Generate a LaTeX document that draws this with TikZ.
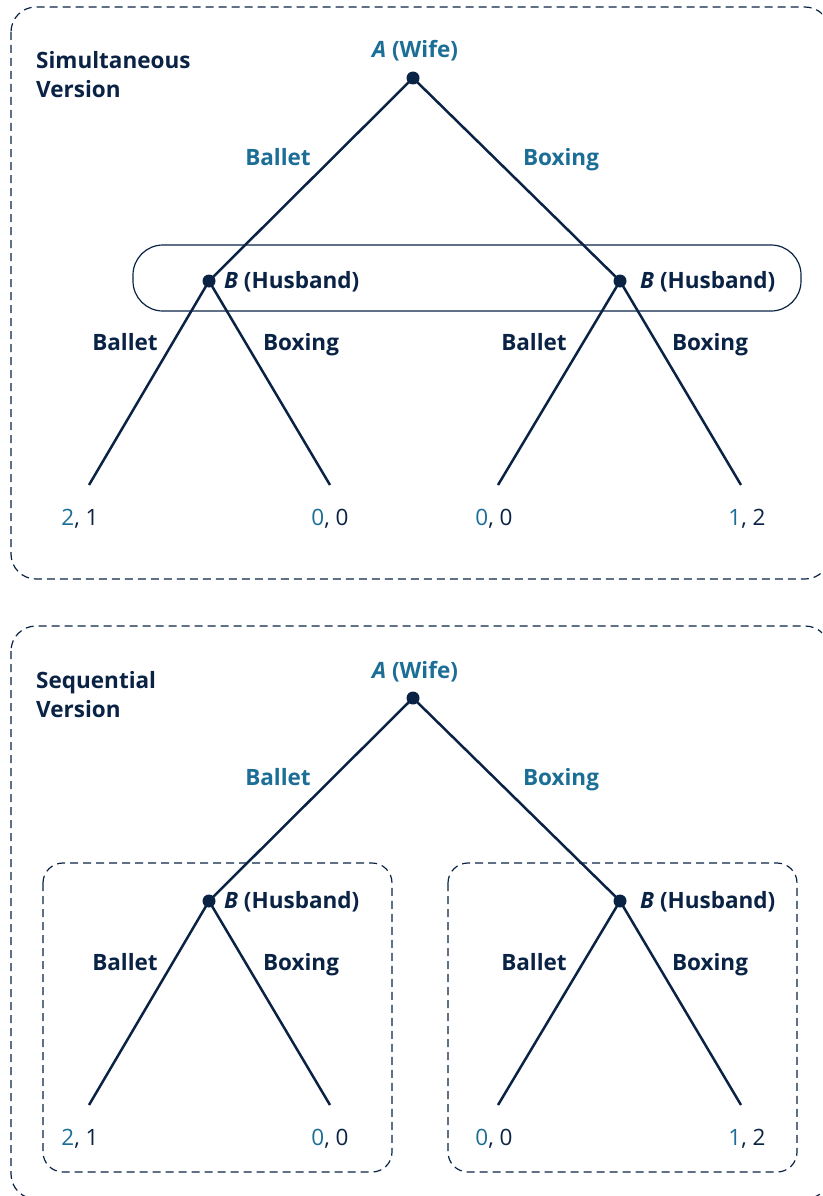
\documentclass[tikz,border=0pt]{standalone}
\usepackage{fontspec}
\setmainfont{Open Sans}
\usetikzlibrary{positioning,calc}
\definecolor{navy}{HTML}{0A2345}
\definecolor{gteal}{HTML}{1C6E96}
\newcommand{\wpay}[1]{\textcolor{gteal}{#1}}

\tikzset{
  branch/.style={draw=navy, line width=2.5pt},
  dot/.style={circle, fill=navy, inner sep=0pt, minimum size=13pt},
  outerbox/.style={draw=navy, line width=1.2pt, dash pattern=on 8pt off 5pt, rounded corners=25pt},
  innerbox/.style={draw=navy, line width=1.2pt, dash pattern=on 8pt off 5pt, rounded corners=20pt},
  infoset/.style={draw=navy, line width=1.2pt, rounded corners=30pt},
  title/.style={anchor=north west, inner sep=0pt, align=left, text=navy,
    font=\bfseries\fontsize{22.5}{29}\selectfont},
  wifelbl/.style={anchor=base, inner sep=0pt, text=gteal, font=\bfseries\fontsize{22.5}{26}\selectfont},
  husblbl/.style={anchor=base west, inner sep=0pt, text=navy, font=\bfseries\fontsize{22.5}{26}\selectfont},
  movea/.style={anchor=base, inner sep=0pt, text=gteal, font=\bfseries\fontsize{22.5}{26}\selectfont},
  moveb/.style={anchor=base, inner sep=0pt, text=navy, font=\bfseries\fontsize{22.5}{26}\selectfont},
  payoff/.style={anchor=base, inner sep=0pt, text=navy, font=\fontsize{22.5}{26}\selectfont}
}

\begin{document}
\begin{tikzpicture}[x=1pt,y=-1pt]
\useasboundingbox (0,0) rectangle (822,1196);
\clip (0,0) rectangle (822,1196);

%% outside boxes
\draw[outerbox] (11,7) rectangle (830,579);
\draw[outerbox] (11,626) rectangle (830,1199);

%% version titles
\node[title] (simtitle) at (36,51) {Simultaneous\\Version};
\node[title] (seqtitle) at (36,671) {Sequential\\Version};

%% husband does not see the choice (top)
\draw[infoset] (133,245) rectangle (801,311);
%% husband sees the choice (bottom)
\draw[innerbox] (43,863) rectangle (392,1172);
\draw[innerbox] (448,863) rectangle (797,1172);

%% the two trees
\foreach \v/\oy in {s/0,q/620}{
  % ends of the branches
  \coordinate (LL\v) at (89,485+\oy);
  \coordinate (LR\v) at (330,485+\oy);
  \coordinate (RL\v) at (498,485+\oy);
  \coordinate (RR\v) at (741,485+\oy);
  % decision nodes
  \coordinate (A\v) at (413,78+\oy);
  \coordinate (L\v) at (209,281+\oy);
  \coordinate (R\v) at (620,281+\oy);
  \draw[branch] (A\v) -- (L\v) (A\v) -- (R\v);
  \draw[branch] (L\v) -- (LL\v) (L\v) -- (LR\v);
  \draw[branch] (R\v) -- (RL\v) (R\v) -- (RR\v);
  \node[dot] (Adot\v) at (A\v) {};
  \node[dot] (Ldot\v) at (L\v) {};
  \node[dot] (Rdot\v) at (R\v) {};
  % players
  \node[wifelbl] (Aname\v) at (415,58+\oy) {\textit{A} (Wife)};
  \node[husblbl] (Lname\v) at (224,288+\oy) {\textit{B} (Husband)};
  \node[husblbl] (Rname\v) at (640,288+\oy) {\textit{B} (Husband)};
  % wife's moves
  \node[movea] (Aball\v) at (278,165+\oy) {Ballet};
  \node[movea] (Abox\v) at (561,165+\oy) {Boxing};
  % husband's moves
  \node[moveb] (Lball\v) at (125,350+\oy) {Ballet};
  \node[moveb] (Lbox\v) at (301,350+\oy) {Boxing};
  \node[moveb] (Rball\v) at (534,350+\oy) {Ballet};
  \node[moveb] (Rbox\v) at (710,350+\oy) {Boxing};
  % payoffs
  \node[payoff] (pLL\v) at (80,525+\oy) {\wpay{2}, 1};
  \node[payoff] (pLR\v) at (330,525+\oy) {\wpay{0}, 0};
  \node[payoff] (pRL\v) at (494,525+\oy) {\wpay{0}, 0};
  \node[payoff] (pRR\v) at (747,525+\oy) {\wpay{1}, 2};
}
\end{tikzpicture}
\end{document}
